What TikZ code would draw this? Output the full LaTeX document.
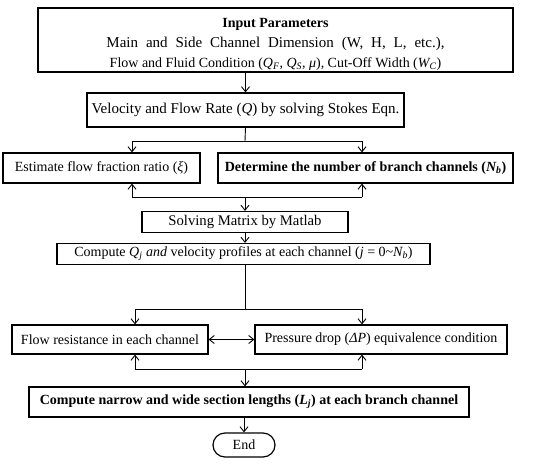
\documentclass[tikz,border=0pt]{standalone}
\usepackage{fontspec}
\setmainfont{Liberation Serif}
\usetikzlibrary{arrows.meta}

\begin{document}
\begin{tikzpicture}[x=1pt,y=-1pt]
            \tikzset{box/.style={draw, rectangle, line width=1.2pt, inner sep=0pt, align=center,
                font=\fontsize{14}{20}\selectfont}}
            \tikzset{arr/.style={-{Straight Barb[length=5pt,width=8pt]}, line width=0.9pt}}
            \tikzset{ln/.style={line width=0.9pt}}
            \useasboundingbox (0,0) rectangle (550,464);

            \node[box, minimum width=475pt, minimum height=64pt] (inp) at (275.5,40)
                {\rule{0pt}{18pt}\textbf{Input Parameters}\\
                 {\fontsize{15}{20}\selectfont\makebox[338pt][s]{Main and Side Channel Dimension (W, H, L, etc.),}}\\
                 Flow and Fluid Condition (\textit{Q\textsubscript{F}}, \textit{Q\textsubscript{S}}, \textit{μ}), Cut-Off Width (\textit{W\textsubscript{C}})};
            \node[box, minimum width=317pt, minimum height=34pt, font=\fontsize{15}{18}\selectfont] (vel) at (245.5,110)
                {Velocity and Flow Rate (\textit{Q}) by solving Stokes Eqn.};
            \node[box, minimum width=197pt, minimum height=30pt] (est) at (101.5,168)
                {Estimate flow fraction ratio (\textit{ξ})};
            \node[box, minimum width=295pt, minimum height=30pt] (det) at (365.5,168)
                {\textbf{Determine the number of branch channels (\textit{N\textsubscript{b}})}};
            \node[box, minimum width=206pt, minimum height=21pt, font=\fontsize{14.7}{18}\selectfont] (mat) at (245,222)
                {Solving Matrix by Matlab};
            \node[box, minimum width=373pt, minimum height=21pt] (cmp) at (243.5,254)
                {Compute \textit{Q\textsubscript{j} and} velocity profiles at each channel (\textit{j} = 0\textasciitilde\textit{N\textsubscript{b}})};
            \node[box, minimum width=196pt, minimum height=29pt] (res) at (110,339.5)
                {Flow resistance in each channel};
            \node[box, minimum width=252pt, minimum height=29pt] (prs) at (381,339.5)
                {Pressure drop (\textit{ΔP}) equivalence condition};
            \node[box, minimum width=440pt, minimum height=30pt] (len) at (249,402)
                {\textbf{Compute narrow and wide section lengths (\textit{L\textsubscript{j}}) at each branch channel}};
            \node[box, rounded corners=12pt, minimum width=62pt, minimum height=24pt] (end) at (244,445)
                {End};

            % split and join points
            \coordinate (s1) at (245,141);
            \coordinate (s1l) at (132,141);
            \coordinate (s1r) at (362,141);
            \coordinate (j1) at (245,197);
            \coordinate (j1l) at (132,197);
            \coordinate (j1r) at (362,197);
            \coordinate (s2) at (245,309);
            \coordinate (s2l) at (135,309);
            \coordinate (s2r) at (362,309);
            \coordinate (j2) at (245,369);
            \coordinate (j2l) at (135,369);
            \coordinate (j2r) at (362,369);

            \draw[arr] (vel.north |- inp.south) -- (vel.north);
            \draw[ln] (vel.south) -- (s1);
            \draw[ln] (s1l) -- (s1r);
            \draw[arr] (s1l) -- (s1l |- est.north);
            \draw[arr] (s1r) -- (s1r |- det.north);
            \draw[ln] (j1l) -- (j1r);
            \draw[arr] (j1l) -- (j1l |- est.south);
            \draw[arr] (j1r) -- (j1r |- det.south);
            \draw[arr] (j1) -- (mat.north);
            \draw[arr] (mat.south) -- (mat.south |- cmp.north);
            \draw[ln] (cmp.south -| s2) -- (s2);
            \draw[ln] (s2l) -- (s2r);
            \draw[arr] (s2l) -- (s2l |- res.north);
            \draw[arr] (s2r) -- (s2r |- prs.north);
            \draw[arr, {Straight Barb[length=5pt,width=8pt]}-{Straight Barb[length=5pt,width=8pt]}] (res.east) -- (prs.west);
            \draw[ln] (j2l) -- (j2r);
            \draw[arr] (j2l) -- (j2l |- res.south);
            \draw[arr] (j2r) -- (j2r |- prs.south);
            \draw[arr] (j2) -- (j2 |- len.north);
            \draw[arr] (len.south -| end.north) -- (end.north);
\end{tikzpicture}
\end{document}
